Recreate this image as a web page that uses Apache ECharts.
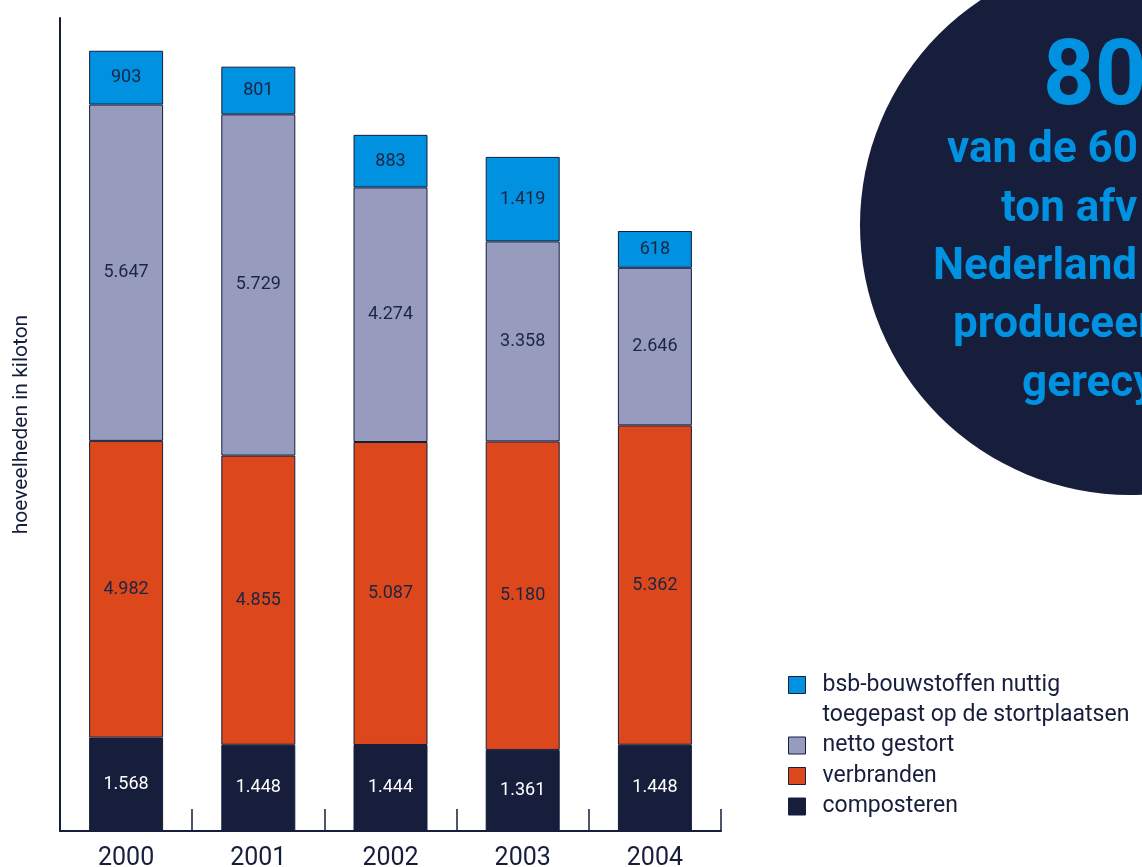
<!DOCTYPE html>
<html>
<head>
<meta charset="utf-8">
<title>afval</title>
<script src="https://cdn.jsdelivr.net/npm/echarts@6/dist/echarts.min.js"></script>
<style>
  html, body { margin: 0; padding: 0; background: #fff; }
  #chart { width: 1142px; height: 867px; }
</style>
</head>
<body>
<div id="chart"></div>
<script>
// jaren
var years = ["2000", "2001", "2002", "2003", "2004"];
// kiloton per verwerking
var composteren = [1568, 1448, 1444, 1361, 1448];
var verbranden = [4982, 4855, 5087, 5180, 5362];
var nettoGestort = [5647, 5729, 4274, 3358, 2646];
var bsbNuttig = [903, 801, 883, 1419, 618];

var seriesNames = [
  "composteren",
  "verbranden",
  "netto gestort",
  "bsb-bouwstoffen nuttig toegepast op de stortplaatsen"
];
var bsbLegendText = "bsb-bouwstoffen nuttig\ntoegepast op de stortplaatsen";

// tekst in de cirkel
var circleBig = "80";
var circleLines = ["van de 60", "ton afv", "Nederland", "produceer", "gerecy"];

var navy = "#161e3c";
var colors = ["#161e3c", "#dc471c", "#979cbf", "#0091e0"];

// 1568 -> 1.568
function nlFormat(v) {
  var s = String(v);
  if (s.length > 3) {
    s = s.slice(0, s.length - 3) + "." + s.slice(s.length - 3);
  }
  return s;
}

function makeSeries(name, data, color, labelColor) {
  return {
    name: name,
    type: "bar",
    stack: "totaal",
    barWidth: 74,
    data: data,
    itemStyle: {
      color: color,
      borderColor: navy,
      borderWidth: 1
    },
    label: {
      show: true,
      position: "inside",
      color: labelColor,
      fontFamily: "Roboto",
      fontSize: 18,
      formatter: function (p) {
        return nlFormat(p.value);
      }
    }
  };
}

var chart = echarts.init(document.getElementById("chart"));

var textLineY = [151, 210, 268, 326, 385];
var textLineX = [947, 1001, 933, 953, 1022];
var circleTexts = [];
for (var i = 0; i < circleLines.length; i++) {
  circleTexts.push({
    type: "text",
    x: textLineX[i],
    y: textLineY[i],
    z: 10,
    style: {
      text: circleLines[i],
      fill: "#0091e0",
      font: "bold 44px Roboto",
      textAlign: "left",
      textVerticalAlign: "middle"
    }
  });
}

var option = {
  backgroundColor: "#ffffff",
  animation: false,
  grid: {
    left: 60,
    right: 421,
    top: 18,
    bottom: 36,
    containLabel: false,
    outerBoundsMode: "none"
  },
  legend: {
    orient: "vertical",
    left: 788,
    top: 640,
    padding: 0,
    itemGap: 0.5,
    itemWidth: 17,
    itemHeight: 17,
    icon: "rect",
    selectedMode: false,
    data: [seriesNames[3], seriesNames[2], seriesNames[1], seriesNames[0]],
    itemStyle: {
      borderColor: navy,
      borderWidth: 1
    },
    textStyle: {
      color: navy,
      fontFamily: "Roboto",
      fontSize: 23,
      lineHeight: 30,
      padding: [0, 0, 0, 12]
    },
    formatter: function (name) {
      if (name === seriesNames[3]) {
        return "\n" + bsbLegendText;
      }
      return name;
    }
  },
  xAxis: {
    type: "category",
    data: years,
    axisLine: {
      lineStyle: { color: navy, width: 2 }
    },
    axisTick: {
      show: true,
      inside: true,
      length: 22,
      lineStyle: { color: navy, width: 1.5 }
    },
    axisLabel: {
      color: navy,
      fontFamily: "Roboto",
      fontSize: 25,
      margin: 15
    }
  },
  yAxis: {
    type: "value",
    min: 0,
    max: 13650,
    name: "hoeveelheden in kiloton",
    nameLocation: "middle",
    nameGap: 28,
    nameRotate: 90,
    nameTextStyle: {
      color: navy,
      fontFamily: "Roboto",
      fontSize: 21
    },
    axisLine: {
      show: true,
      lineStyle: { color: navy, width: 2 }
    },
    axisTick: { show: false },
    axisLabel: { show: false },
    splitLine: { show: false }
  },
  series: [
    makeSeries(seriesNames[0], composteren, colors[0], "#ffffff"),
    makeSeries(seriesNames[1], verbranden, colors[1], "#1c2544"),
    makeSeries(seriesNames[2], nettoGestort, colors[2], "#1c2544"),
    makeSeries(seriesNames[3], bsbNuttig, colors[3], "#1c2544")
  ],
  graphic: [
    {
      type: "circle",
      shape: { cx: 1130, cy: 225, r: 270 },
      z: 5,
      style: { fill: navy }
    },
    {
      type: "text",
      x: 1043,
      y: 81,
      z: 10,
      style: {
        text: circleBig,
        fill: "#0091e0",
        font: "bold 90px Roboto",
        textAlign: "left",
        textVerticalAlign: "middle"
      }
    }
  ].concat(circleTexts)
};

chart.setOption(option);
</script>
</body>
</html>
